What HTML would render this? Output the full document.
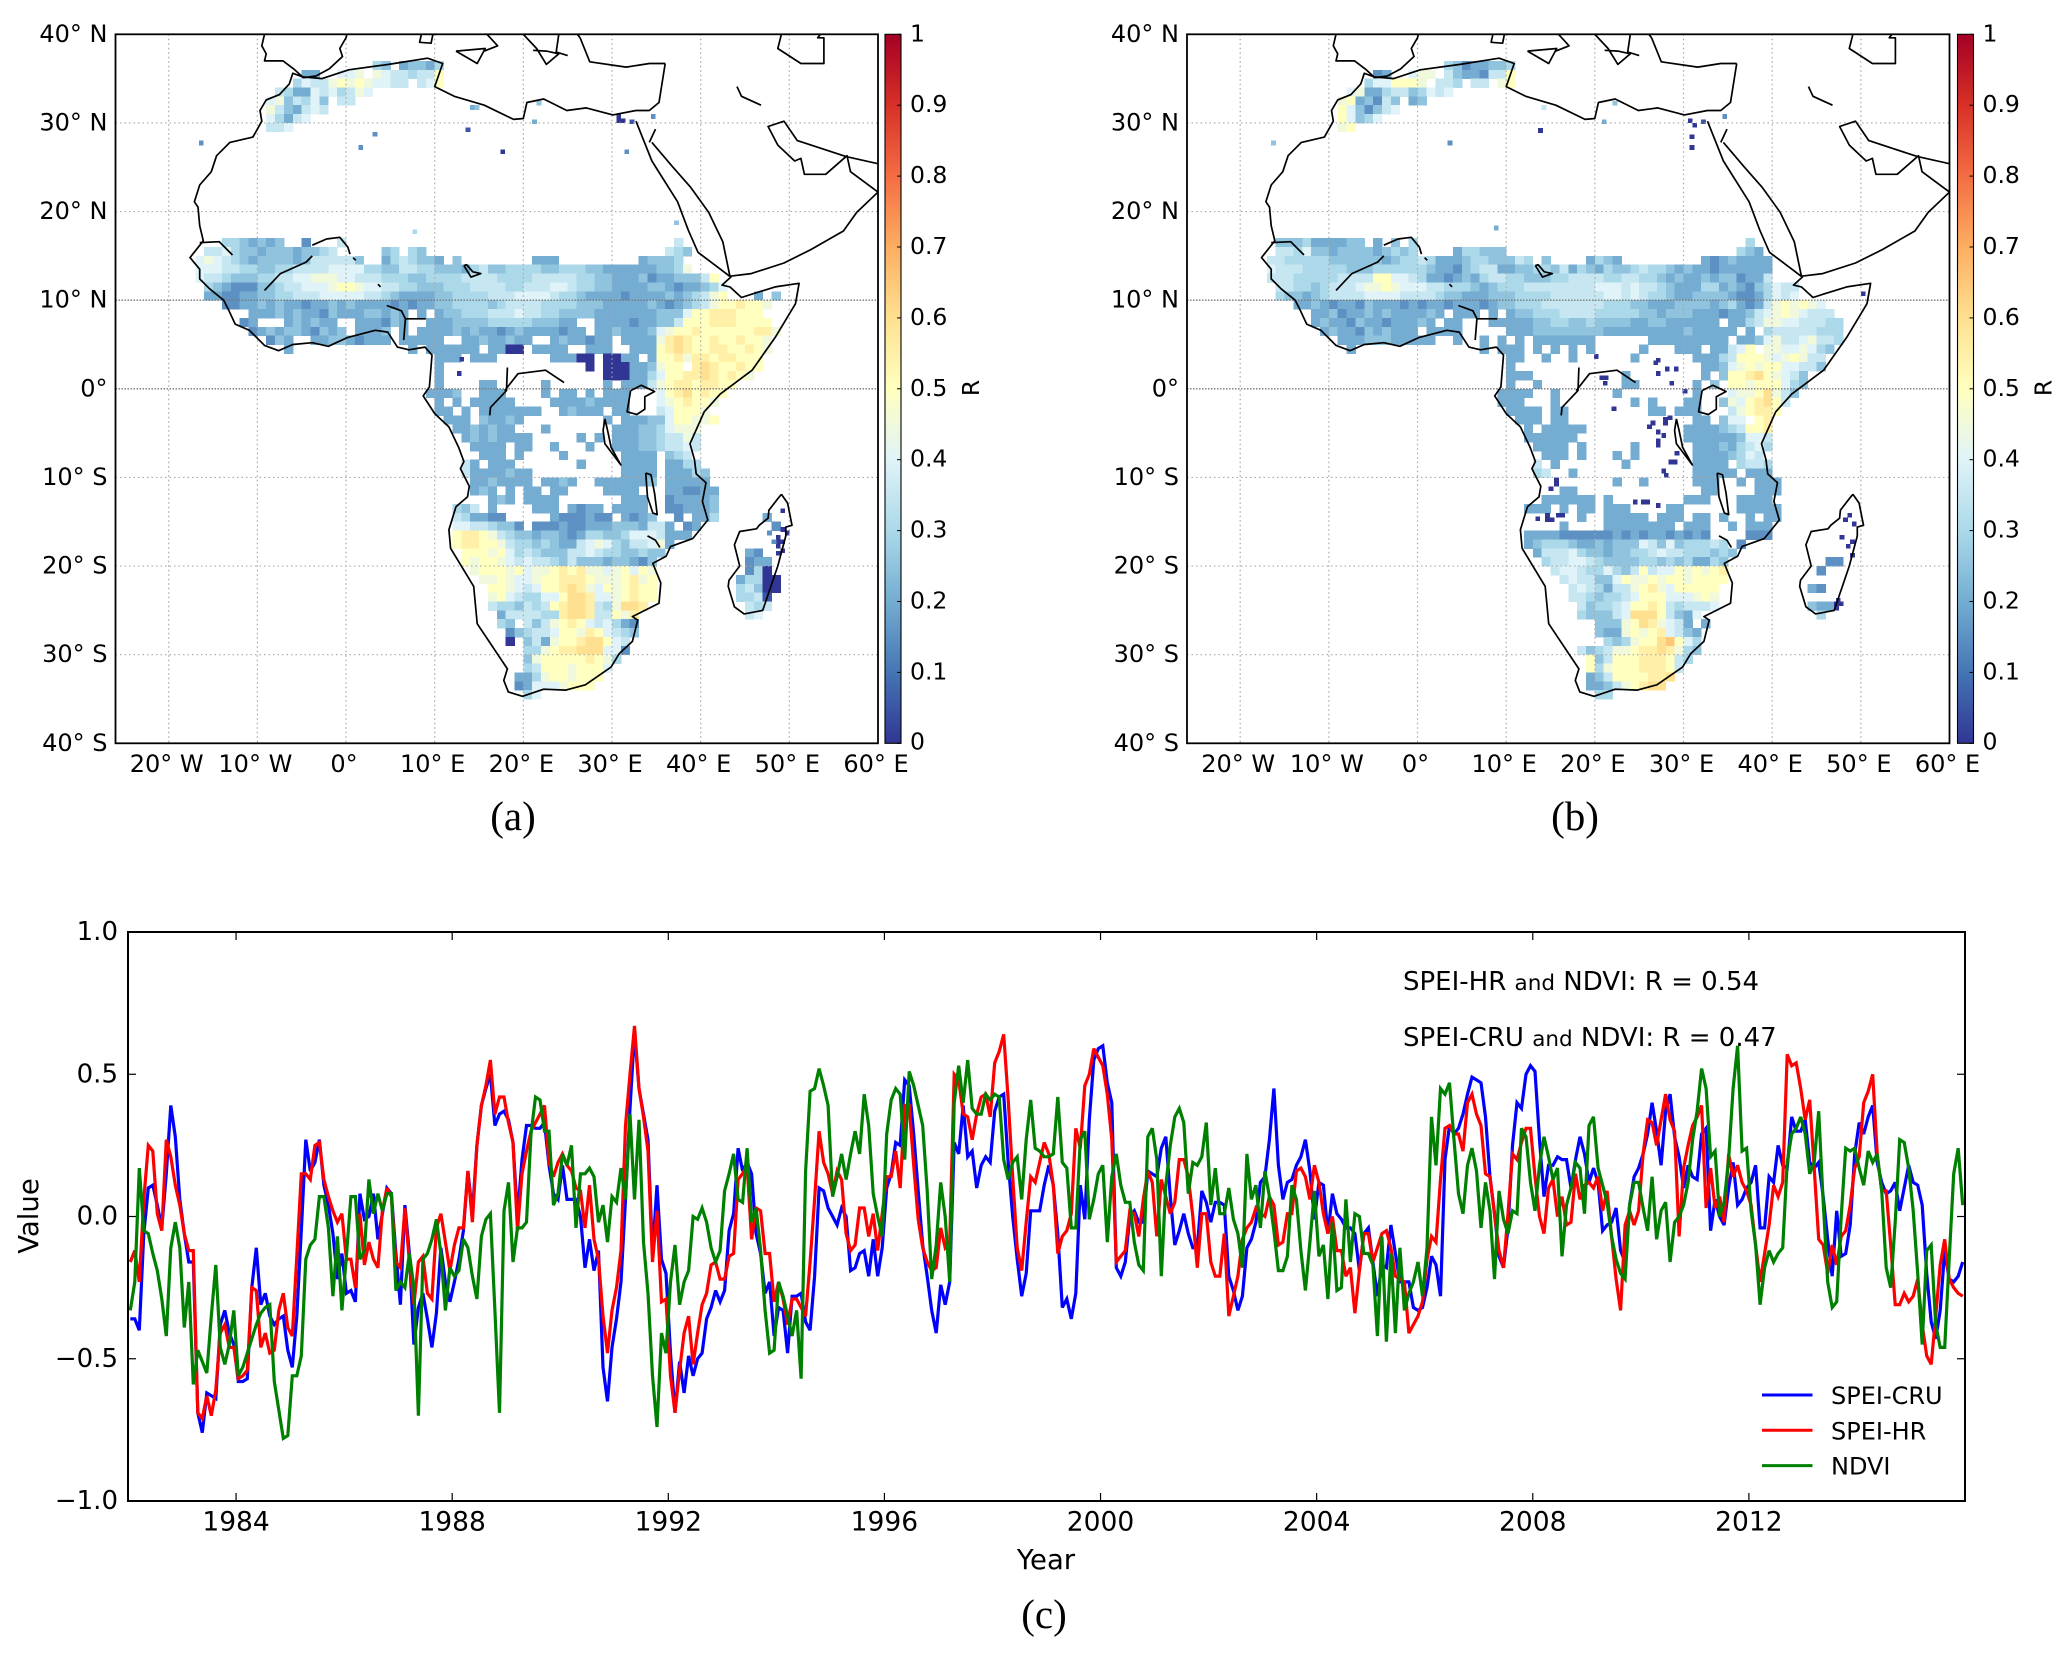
<!DOCTYPE html>
<html lang="en">
<head>
<meta charset="utf-8">
<title>SPEI and NDVI correlation over Africa</title>
<style>
html,body{margin:0;padding:0;background:#fff;width:2067px;height:1660px;overflow:hidden}
svg{display:block}
text{font-family:"DejaVu Sans",sans-serif;fill:#000}
.cap{font-family:"Liberation Serif",serif;font-size:41px}
</style>
</head>
<body>
<svg id="fig" xmlns="http://www.w3.org/2000/svg" width="2067" height="1660" viewBox="0 0 2067 1660">
<rect width="2067" height="1660" fill="#fff"/>
<text class="cap" x="513" y="830" text-anchor="middle">(a)</text>
<text class="cap" x="1575" y="830" text-anchor="middle">(b)</text>
<text class="cap" x="1044" y="1628" text-anchor="middle">(c)</text>
</svg>
<script>
const lonTicks=[-20,-10,0,10,20,30,40,50,60];
const latTicks=[40,30,20,10,0,-10,-20,-30,-40];
const cbTicks=[0,0.1,0.2,0.3,0.4,0.5,0.6,0.7,0.8,0.9,1];
const cbLabels=["0","0.1","0.2","0.3","0.4","0.5","0.6","0.7","0.8","0.9","1"];
const cmapValues=[0,0.1,0.2,0.3,0.4,0.5,0.6,0.7,0.8,0.9,1];
const cmapColors=["#313695","#4575b4","#74add1","#abd9e9","#e0f3f8","#ffffbf","#fee090","#fdae61","#f46d43","#d73027","#a50026"];

/* gridded R: "lat|lon:levels ..." levels are hex digits, R = level x 0.05, '.' = no data */
const rowsA=[
"37|3:65 6:45 8:54 10:6","36|-5:44 -1:889 3:9877 7:6777 10:a","35|-6:68 -4:77 -2:9a9a 2:988 5:77 8:78 10:a",
"34|-8:76 -6:4 -5:48 -3:78 -1:67 1:98","33|-9:89 -7:57 -5:68 -3:5 -1:77","32|-9:97 -7:54 -5:78 -3:7","31|-9:86 -7:47 -5:8","30|-9:77 -7:8",
"17|-14:66 -12:5 -11:4545 -8:5 -5:3 -1:7 37:7",
"16|-16:77 -14:8 -13:6 -12:55455 -7:545 -4:56 -2:7 4:56 7:65 36:7 37:6 38:5",
"15|-17:8987654555 -7:545777775 4:4676554 12:5 21:444 33:45556",
"14|-17:8887766556 -7:6777788886 3:6557766555 13:4675566665 23:5666554444 33:445569",
"13|-17:8776555667 -7:7889998877 3:7666556666 13:7777666677 23:7776655444 33:5344555 40:7a",
"12|-16:6543335567 -6:78889aa988 4:7766555666 14:7777667778 24:8766554444 34:554344568",
"11|-16:4433445566 -6:7778888877 4:6544445566 14:6677788887 24:6654444344 34:4454567 41:9a 46:4 48:5",
"10|-14:3344545 -7:4434454544 3:4434344556 13:6665677776 23:6665554444 33:4543456 40:79aabaa9",
"9|-11:4 -10:4454544354 0:445545 6:4.4. 10:4556667778 20:7766555544 30:4444455 37:5 38:8aabbbaa 46:a",
"8|-12:34 -7:454544 1:44 3:4354 8:.4 10:4 11:4555566 18:66 20:655544 28:4 29:44 31:434 34:455 37:7 38:aaabbbaaa 47:a",
"7|-11:3454554354 -1:5.4445.4 8:44 10:4454544345 20:4444344.4 29:454 32:44 34:58 36:9aabaa 42:aaaabb 48:9",
"6|-9:354 -4:4455434 3:44 6:4 7:444 10:4 13:4 14:454454 20:4 23:4544344 31:44 33:4 34:4 35:9 36:bcbaabaaba 46:a9",
"5|-7:4 7:4.4 10:44 12:44 14:4.44 18:00 21:4444 27:4 28:44 32:4 33:44 35:abcbaabbaa 45:ba9",
"4|10:444 14:444 23:444 26:00 29:000 31:44 34:4 35:aab9bbabba 45:aa",
"3|10:4 27:0 29:000 32:44 34:5 35:9aa.bcbaaba 46:a",
"2|10:4 29:000 32:44 34:6 35:8aabbcbab 44:a9",
"1|10:4 15:44 22:4 29:4 31:4 32:44 34:7 35:9 36:abbabba 43:a",
"0|9:4445 15:444 22:4 24:44 27:4 29:4 30:44 35:8abcaba 42:a",
"-1|10:4.4.4 15:4444 23:4444544 30:44 35:8 36:9abaab 41:9",
"-2|10:44.4 13:4 15:44 17:44444 24:4544 28:4 30:44 35:7 36:8aaa9",
"-3|11:444 15:54454 29:4 31:44 33:4 34:55 36:8aa99a",
"-4|12:4 13:45454 18:4 22:4 30:4 31:444 33:556 36:8997 39:9",
"-5|13:4545444 20:4 26:4 28:4 30:444 33:55677 38:97",
"-6|14:4444.44 23:4 27:4 30:44 32:4556 36:778 39:7",
"-7|15:444 17:4.4 24:4 31:444 34:4.56 38:7",
"-8|13:7 14:4 16:444 18:4 26:4 31:4444.444 38:6 39:6",
"-9|13:7 14:4444544 19:4 31:4444 36:4444 39:65",
"-10|14:4454 18:44 20:4 22:4454 28:4 29:444445 36:44 38:44 40:4",
"-11|14:454 16:4.4 20:4 21:4 23:44 24:4 29:4444 36:444 38:3344",
"-12|16:454 20:4 21:444 31:4 32:44 36:3444 39:445",
"-13|12:66 13:57 16:4 21:4 22:44 25:4344 30:4 31:444 33:4 36:3343 39:445",
"-14|12:76 14:44 16:33 23:4 24:33 26:3433 31:4345 37:3 39:44 41:6",
"-15|12:8877 16:655 19:3 21:33 23:343 26:3444 30:5554 34:77 36:4 38:34",
"-16|12:abba 16:9765 20:54 22:5543 26:4665 30:5688 34:87 36:44 38:4",
"-17|12:abba 16:a976 20:65 22:6544 26:7898 30:6 31:5778 35:94",
"-18|13:ab 14:aa9a 18:86 20:765 23:55 25:7 26:787 29:6 30:6556 34:5 35:5",
"-19|13:a9 15:aac 17:9 18:87 20:877 23:65 25:75 27:5545 31:5435",
"-20|14:9a 16:aa9a 20:899 23:ab 25:ab99 29:8 30:9a8 33:a9",
"-21|15:99 17:a9 19:88 21:9a 23:ab 25:bba9 29:99 31:ab 33:9a",
"-22|16:aa 18:98 20:78 22:aab 25:cb 27:98 29:a9 31:abaa",
"-23|16:9a 18:87 20:66 22:88 24:ac 26:cb 28:88 30:9a 32:baa",
"-24|16:7 17:66 19:5 20:76 22:7a 24:bc 26:cb 28:76 30:9c 32:cb",
"-25|17:4 18:77 20:77 22:66 24:bc 26:cb 28:77 30:a9 32:b",
"-26|17:65 20:75 22:7 23:9a 25:ba 27:87 29:86 31:43",
"-27|18:35 20:67 22:78 24:aa 26:9b 28:a8 30:76 32:5",
"-28|18:0 20:57 22:4 23:9 24:aab 27:cc 29:a8 31:7",
"-29|20:66 22:9 23:a 24:bbc 27:cc 29:88 31:3",
"-30|20:5 21:9 22:a 23:aa 25:aa 27:b 28:a9 30:6",
"-31|20:6 21:7 22:aa 24:a9 26:a 27:a 28:a8",
"-32|19:44 21:6 22:9a 24:a9 26:aa 28:a",
"-33|19:34 21:8 22:88 24:9 25:aa 27:a",
"-34|20:6 21:8",
"-14|47:4","-15|48:3","-18|45:43","-19|45:3 46:44","-20|45:3 46:64 47:0","-21|44:4 45:66 47:00","-22|44:6 45:75 47:00","-23|44:6 45:67 47:1","-24|45:76 47:7","-25|45:78"
];
const specksA=[[14,32,4],[14.5,32,5],[13.5,29.5,1],[21.5,32.5,5],[21,30.4,4],[30.5,31,0],[31,30.5,0],[30.5,30.5,0],[32,30.4,1],[34.4,31,3],[31.4,27,3],[17.4,27,0],[3,29,3],[1.4,27.5,3],[-16.6,28,3],[7.5,18,6],[37,19,5],[49,-13.5,0],[49,-15.6,0],[49.5,-16,0],[48.5,-16.5,0],[48.5,-17,0],[48.5,-17.5,0],[49,-17,0],[49,-18,0],[48.5,-18.3,0],[12.8,3.6,0],[12.5,2,0],[48,-17,3],[47.5,-16,3]];

const rowsB=[
"37|3:65 5:3 6:44 8:55 10:6","36|-5:34 -1:899 3:7 4:5443 8:7 9:77 10:a","35|-6:68 -4:8a -2:aa9 2:776 6:77 9:9a",
"34|-8:89 -6:4 -5:4 -4:67 -2:7 -1:56 1:87 3:8","33|-9:9a -7:45 -5:37 -3:5 -1:45","32|-9:a8 -7:53 -5:57 -3:8","31|-9:a8 -7:56 -5:8","30|-9:9 -8:a",
"17|-16:5556 -12:4 -11:4445 -7:5 -5:4 -3:5 -1:6 37:6",
"16|-16:7768 -12:5 -11:54555 -6:5 -5:4 -4:56 -2:5 -1:6 4:46 6:65 8:55 36:6 37:5 38:4",
"15|-17:7766666555 -7:5554566764 3:4456655576 14:5 19:4654 32:4345 36:4444",
"14|-17:8777666665 -7:5566666654 3:4356774455 13:6657465465 23:56766545 31:4 32:4344 36:4444",
"13|-17:7776666677 -7:77aa887644 3:3454677665 13:5566777766 23:7766545445 33:455 36:3445 39:7",
"12|-16:7766567778 -6:99a9888776 4:6654566677 14:7777778887 24:8776544466 34:4543568 41:77",
"11|-16:6554567777 -6:8888777765 4:5444555666 14:6777777887 24:8766544555 34:543346 40:878",
"10|-14:4454344354 -4:4434344344 6:4345566677 16:7777766655 26:4445555456 36:434 39:79a9 43:a98",
"9|-12:4 -11:4534454544 -1:4454.44 6:4.4 8:4 10:4556667777 20:6666655455 30:5444344 37:5789a 42:987 45:77",
"8|-12:4544354434 -2:4454.44. 8:4 9:4 10:4445566556 20:5555445544 30:44 32:44 35:4 36:4 37:679 40:988 43:7776 47:6",
"7|-11:4544354544 -1:4.4444 10:4445555 17:555 20:5 21:4 22:4444 26:44 28:44 30:544 33:444 37:4 39:6 40:7 41:7 42:777 45:66 47:6",
"6|-9:44 -7:45554444 1:4 4:4 7:4.4 11:4 13:4 13:444 16:4 17:44 19:4 26:44 27:444 30:44 32:4 33:44 36:4 37:4 38:58 40:9 41:7 42:789 45:776",
"5|-8:4 7:4 9:4 10:4 11:4 13:4 15:4 17:4 19:4 25:4 29:44 31:4 33:44 35:78 37:a 39:998 42:898 45:65",
"4|10:44 14:4 17:4 24:4 31:4 32:44 34:6 35:7 36:a 37:aa 39:98 41:9a 43:97 45:7",
"3|10:4 32:44 34:5 35:89 37:a9 39:aa 41:88 43:77 45:5",
"2|10:44 12:4 23:4 32:4 34:5 35:a 36:ab 38:ca 40:98 42:75",
"1|10:4 13:4 23:4 24:4 31:4 33:5 35:a 36:a9a 39:aa 41:86 43:5",
"0|9:444 12:4 15:4 22:4 31:4 35:89 37:9 38:ac 40:97 42:5",
"-1|9:444 11:4 15:4 24:4 26:4 30:4 31:4 34:5 35:9 36:8a 38:bc 40:a7",
"-2|10:4444 15:4 16:4 26:44 29:4 30:44 35:7 36:9 37:ab 39:ba",
"-3|11:444 15:44 31:4 31:44 34:5 35:8 36:8 38:a 39:b",
"-4|12:4 14:4 15:4444 30:4 31:444 33:45 35:67 37:a 38:ab",
"-5|12:44 14:4444 17:4 30:4 31:44 33:44 35:45 37:88 39:7",
"-6|13:4444 18:4 24:4 31:444 33:45 35:4678 39:6",
"-7|14:444 18:4 22:4 24:4 31:44 33:4 34:45 36:68 38:7",
"-8|13:7 15:4 23:4 31:44 33:4 34:4 36:67 38:76",
"-9|13:6 14:7 17:4 31:44 33:44 35:4 37:4 38:44",
"-10|22:4 25:4 31:444 33:4 36:4 38:4 38:444",
"-11|16:44 32:44 38:44 39:44",
"-12|14:4 15:44 17:44 19:4 21:4 30:44 32:4 36:44 38:44",
"-13|12:44 14:4 16:4 18:44 21:44 23:4 28:44 36:444 39:44",
"-14|18:4 21:4 22:4444 27:44 29:4 31:44 34:4 37:4 39:44",
"-15|16:4 21:44 22:444 25:44 27:44 30:4 31:44 35:4 37:44 39:4",
"-16|12:4 13:4 14:4433 18:33 20:3 21:34 23:34 25:3443 29:4343 37:3 37:3 38:33",
"-17|12:4566654 19:4545 23:5587 27:5856 31:6676 36:3",
"-18|13:47 15:778 18:65 20:5455 24:6 25:6 26:7877 30:6665 34:6 35:5",
"-19|14:67 16:7887 20:65 22:5 23:5566 27:5656 31:4465",
"-20|15:7 16:88 18:7 19:66 21:86 23:57a 26:788 29:a9a 32:9ab",
"-21|16:7 17:8 18:77 20:55 22:8a 24:99 26:a9 28:aa 30:9a 32:aaa",
"-22|17:78 19:76 21:4 22:77 24:9 25:ab 27:98 29:aa 31:aa 33:a",
"-23|17:7 18:76 20:5 21:66 23:78 25:aa 27:a8 29:88 31:9a 33:9",
"-24|18:75 20:66 22:7 23:8a 25:ab 27:a7 29:6 30:7 31:7 32:78",
"-25|18:65 20:55 22:78 24:cc 26:ca 28:75 30:4 31:8",
"-26|20:5 21:55 23:9 24:ac 26:b9 28:87 30:4 32:4",
"-27|20:54 22:4 23:9 24:a9 26:ab 28:87 30:5 31:4",
"-28|21:6 22:5 23:69 25:aa 27:cd 29:a8 31:6",
"-29|18:77 19:5 20:6 21:79 23:9a 25:b 26:bc 28:b9 30:65",
"-30|19:a5 21:7a 23:aa 25:bb 27:ba 29:76",
"-31|19:a6 21:9 22:aa 24:ab 26:bb 28:a7",
"-32|19:45 21:7a 23:aa 25:ab 27:bc",
"-33|19:44 21:57 23:9a 25:bc 27:c",
"-34|20:6 21:6",
"-19|46:33","-20|45:3","-22|44:4 45:3","-24|44:54 46:4","-25|45:6"
];
const specksB=[[14,32,7],[13.6,29.4,0],[22,32.5,5],[20.8,30.4,4],[30.5,30.5,0],[31,30,0],[30.7,28.7,0],[30.7,27.5,0],[32,30.4,1],[34.4,31,3],[3.4,28,3],[-16.5,28,5],[8.6,18.4,4],[48.5,-14,0],[48,-14.5,0],[49,-15,0],[47.6,-16.5,0],[48.8,-17,0],[48.3,-17.5,0],[48.8,-18.5,0],[50,11,0],
[19.9,3.9,0],[26.6,3.2,0],[26.9,3.5,0],[27.9,2.5,0],[28.9,2.5,0],[26.9,2,0],[28.4,.9,0],[20.5,1.5,0],[21,1.5,0],[20.9,.9,0],[29.9,0,0],[21.9,-2,0],[27.7,-3.2,0],[28.2,-3,0],[27.7,-3.6,0],[26.3,-3.6,0],[25.9,-4,0],[26.9,-4.6,0],[27.5,-5,0],[26.9,-5.6,0],[26.9,-6.1,0],[29,-7,0],[28.3,-8,0],[28.8,-8,0],[27.5,-9,0],[27.8,-9.5,0],[15.4,-10,0],[15.4,-10.5,0],[14.8,-11,0],[24.3,-12.5,0],[25.2,-12.5,0],[25.7,-12.5,0],[26.9,-12.9,0],[13.3,-14.4,0],[14.4,-14,0],[14.4,-14.5,0],[14.9,-14.5,0],[15.6,-14,0],[16.1,-14,0],[47.2,-23.6,0],[47,-24,0],[47.5,-24,0],[47,-24.5,0]];

/* coastlines and inland water as lon,lat pairs */
const coastLines=[
[36,36.7,35.3,32.3,34.2,31.4,32.7,31.4,30.1,30.9,27.1,31.7,24.9,31.4,22.3,32.7,20.4,32.3,20,30.5,18.9,30.4,15.6,32,12.2,33,10,34.1,10.9,36.7,9.2,37.3,4.8,36.6,.3,36,-2.7,35,-4.9,35.2,-6,35.6,-6.4,34.4,-7.5,33.2,-9,32.6,-9.7,31.4,-9.5,30.2,-10.5,28.4,-13.1,27.8,-14.6,26.3,-15.2,24.5,-16.5,23,-17.1,21.1,-16.7,20.5,-16.5,18.4,-16.1,16.7,-17.6,14.8,-16.5,13.5,-16.5,12.4,-15.4,11.3,-13.8,10,-13.2,8.8,-12.5,7.3,-10.9,6.6,-9.2,4.9,-7.6,4.3,-6,5,-3.8,5.2,-2,4.8,.2,5.8,3.3,6.6,4.7,6.4,5.8,4.7,7.1,4.4,8.9,4.7,9.7,3.8,9.4,.2,8.7,-.8,10,-2.8,11.6,-4.3,12.7,-6.6,13.3,-8.2,12.9,-9,13.9,-11,13.7,-12.2,12.4,-13.3,11.6,-15.9,11.8,-18,14.4,-22.3,14.8,-26.5,18.2,-31.6,17.8,-32.9,18.3,-34.2,19.9,-34.7,22.3,-33.9,24.8,-34,27,-33.4,29.9,-31.4,30.8,-29.9,32.3,-28.5,32.9,-26.1,32.3,-25.7,35.3,-24.2,35.5,-21.9,34.6,-19.7,36.1,-18.9,36.6,-17.8,39.1,-16.9,40.8,-14.8,40.2,-12.7,40.6,-10.6,39.5,-9.6,39.3,-8,38.8,-6.2,40.4,-2.6,42.2,-.6,45.8,2.1,48.4,5.8,50.7,9.6,51.1,11.9,48.4,11.5,45.8,10.7,44.6,10.3,43.3,11.5,42.4,11.7,43.4,12.6,39.7,15.4,38.6,17.9,37.4,21.1,34.5,25.7,32.7,30.2],
[34.2,27.8,34.9,29.3],
[34.5,27.8,36.8,25.1,38.9,22.7,40.9,19.9,42.5,16.6,43.3,12.7,45.7,13,49.4,14.2,52.4,15.7,56.1,17.8,57.6,19.9,60,22.2],
[60,22.2,56.9,24.5,56.5,26.3,54.1,24.2,51.7,24.2,51.3,26,50.6,25.7,48.7,27.5,47.6,29.6,49.4,30.2,50.9,28,56.4,26.2,60,25.4],
[49.1,40,48.7,38.4,51.3,36.7,53.9,36.7,53.9,39.6,53.2,39.6,53.5,40],
[44.1,34.1,44.6,33,46.8,32],
[-9.2,40,-9.5,38.7,-9,37.8,-9.2,37,-7.1,37,-5.9,36.1,-4.8,35.1,-3.4,35.3,-1.9,36.1,-.4,37.5,-.7,38.4,0,39.6,.1,40],
[8.5,40,8.3,39.1,9.6,39,9.8,40],
[12.4,38.1,15.7,38.4,14.8,36.7,12.4,38.1],
[15.9,40,17.1,38.7,15.6,38.1],
[20,40,21.5,38.4,22.6,36.6,24,37.8,22.6,38.1,21.1,38.2],
[24,40,23.7,38,25,37.6],
[26.4,39.6,26.1,40],[26.4,39.6,27.5,36.9,31.6,36.3,34.2,36.7,36,36.7],
[-16.5,16.5,-14.3,16.6,-12.8,15.1],
[-3.8,16.2,-2.2,16.9,-.7,17.1,.2,16,.45,15.2],[.8,14.8,1.1,14.5],
[-9.2,11.1,-7.4,13,-4.5,14.3,-3.8,15],
[3.6,11.8,3.9,11.5],
[4.6,9.4,6.25,8.8,6.7,7.9,9,7.9],[6.7,7.9,6.5,5.5],
[13.3,13.9,14.1,12.6,15.2,13,14.3,13.2,13.6,14,13.3,13.9],
[16.2,-3,16.3,-2.1,18.1,-.2,18.2,2.4],[17.9,-.2,19.4,1.7,22.5,2.1,24.6,.7],
[32.1,-.2,31.7,-2.6,32.8,-2.9,33.7,-2.3,33.7,-.9,34.8,-.3,33.3,.4,32.1,-.2],
[29.2,-3.4,29,-4.7,29.2,-6.2,31,-8.6,29.9,-6.6,29.5,-4.7,29.2,-3.4],
[33.8,-9.5,34.4,-9.7,34.8,-11.8,35.1,-14.2,34.6,-14,34,-12.2,33.8,-9.5],
[34,-16.6,34.9,-17.1,35.4,-17.9],
[49.1,-11.9,48.7,-12.4,47.7,-13.7,47.6,-14.6,46.6,-15.4,46.3,-15.8,44.4,-16.1,43.8,-17.6,44.4,-20,43.2,-21.6,43.1,-22.3,43.8,-24.6,44.9,-25.4,47,-25,48.7,-20,49.6,-16.6,49.6,-15.6,50.3,-15.4,49.8,-12.9,49.1,-11.9]
];

/* monthly series 1982-2015, 408 values each */
const seriesCRU=[
-.36,-.36,-.40,-.06,.10,.11,.04,-.04,.15,.39,.28,.06,-.06,-.16,-.16,-.69,-.76,-.62,-.63,-.64,
-.38,-.33,-.41,-.45,-.58,-.58,-.57,-.25,-.11,-.31,-.27,-.35,-.38,-.36,-.35,-.47,-.53,-.35,-.05,.27,
.16,.19,.27,.11,.04,-.06,-.22,-.13,-.27,-.26,-.30,.08,-.01,0,.08,-.08,.01,.10,.08,-.13,
-.31,.04,-.13,-.45,-.32,-.27,-.36,-.46,-.34,-.11,-.23,-.30,-.23,-.15,-.05,.16,.01,.25,.39,.45,
.50,.32,.36,.37,.34,.26,0,.20,.32,.32,.31,.31,.33,.18,.08,.06,.18,.06,.06,.06,
0,-.18,-.08,-.19,-.12,-.53,-.65,-.46,-.36,-.23,.06,.38,.65,.45,.36,.27,-.13,.11,-.15,-.20,
-.48,-.69,-.51,-.62,-.49,-.56,-.50,-.48,-.36,-.32,-.26,-.30,-.26,-.05,.01,.24,.16,.19,.15,-.06,
-.13,-.27,-.23,-.42,-.32,-.33,-.48,-.28,-.28,-.27,-.37,-.40,-.21,.10,.09,.03,0,-.03,.03,0,
-.19,-.18,-.13,-.12,-.21,-.08,-.21,-.11,.10,.15,.26,.25,.48,.46,.29,.09,-.10,-.21,-.33,-.41,
-.24,-.31,-.23,.26,.22,.39,.21,.23,.10,.18,.21,.19,.37,.42,.43,.19,0,-.15,-.28,-.20,
.02,.02,.02,.11,.18,.11,-.06,-.32,-.29,-.36,-.27,.11,-.01,.34,.55,.59,.60,.47,.40,-.18,
-.21,-.16,0,.02,-.02,-.02,.16,.15,.14,.24,.28,.07,-.10,-.05,.01,-.06,-.11,-.11,.09,.05,
-.02,.05,.05,.04,-.21,-.26,-.33,-.28,-.11,-.08,-.02,.12,.14,.27,.45,.18,.06,.12,.13,.18,
.21,.27,.16,-.01,.12,.11,-.06,.08,.01,-.01,-.04,-.04,-.06,-.19,-.06,-.04,-.16,-.28,-.17,-.18,
-.03,-.13,-.23,-.23,-.23,-.32,-.33,-.32,-.25,-.14,-.17,-.28,.20,.32,.29,.31,.36,.43,.49,.48,
.47,.35,.14,.01,-.14,-.18,-.04,.25,.40,.38,.50,.53,.51,.27,.07,.18,.18,.21,.20,.20,
.10,.20,.28,.22,.12,.17,.12,-.05,-.03,-.02,.03,-.12,-.16,.04,.14,.17,.22,.29,.40,.30,
.18,.37,.43,.28,.21,.10,.18,.14,.13,.29,.31,-.05,.06,0,-.03,.10,.19,.04,.06,.10,
.12,.18,-.04,-.04,.14,.12,.25,.18,.17,.35,.30,.30,.34,.19,.17,.19,.07,-.08,-.21,.02,
-.14,-.13,-.03,.22,.33,.29,.35,.39,.19,.12,.08,.09,.12,.02,.10,.18,.12,.11,.04,-.20,
-.37,-.43,-.33,-.12,-.22,-.23,-.21,-.16];
const seriesHR=[
-.16,-.12,-.23,.06,.25,.23,.01,-.05,.27,.21,.11,.04,-.06,-.12,-.12,-.69,-.71,-.63,-.70,-.61,
-.41,-.38,-.46,-.46,-.57,-.56,-.54,-.25,-.26,-.46,-.41,-.48,-.47,-.33,-.27,-.39,-.42,-.14,.15,.15,
.13,.25,.26,.13,.07,.02,-.02,.01,-.15,-.15,-.25,.01,-.17,-.09,-.15,-.18,.02,.10,.07,-.16,
-.18,.03,-.16,-.31,-.16,-.14,-.27,-.29,-.04,.01,-.09,-.19,-.10,-.04,-.04,.16,-.02,.25,.39,.46,
.55,.36,.42,.42,.33,.26,-.05,.15,.23,.30,.33,.36,.39,.19,.14,.19,.22,.18,.16,.10,
.09,-.04,.11,-.08,-.15,-.35,-.48,-.33,-.25,-.12,.32,.50,.67,.45,.35,.23,-.16,.02,-.30,-.29,
-.56,-.69,-.54,-.41,-.35,-.52,-.41,-.31,-.27,-.17,-.16,-.22,-.22,-.14,-.13,.13,.15,.18,-.08,.03,
.02,-.13,-.13,-.30,-.23,-.29,-.38,-.29,-.29,-.32,-.35,-.16,.06,.30,.19,.15,.08,.16,.13,-.06,
-.12,-.10,.03,.03,-.07,.01,-.12,.01,.14,.14,.23,.10,.39,.39,.18,-.01,-.11,-.16,-.19,-.18,
-.04,-.11,-.09,.50,.48,.36,.35,.27,.36,.42,.43,.35,.54,.58,.64,.41,.14,-.11,-.19,-.02,
.14,.12,.19,.26,.22,.11,-.13,-.07,-.05,.01,.31,.24,.46,.50,.59,.56,.53,.43,.27,-.16,
-.14,-.12,.02,.01,-.07,.06,.16,.12,-.07,.13,.07,.01,.05,.20,.20,.14,0,-.18,.01,.01,
-.16,-.21,-.21,-.06,-.35,-.28,-.21,-.08,-.04,-.02,.03,.01,0,.07,.04,-.10,-.09,.01,.01,.16,
.17,.14,.06,.18,.12,.01,-.06,0,-.12,-.12,-.21,-.18,-.34,-.19,-.06,-.06,-.16,-.11,-.06,-.05,
-.11,-.21,-.22,-.23,-.41,-.38,-.35,-.30,-.15,-.07,-.09,.13,.31,.32,.29,.29,.23,.40,.43,.36,
.32,.15,.14,.01,-.12,-.18,.01,.22,.20,.26,.31,.31,.14,0,-.06,.10,.13,0,.07,-.03,
-.02,.15,.06,.11,.12,.10,.14,.02,.09,-.07,-.22,-.33,-.03,.02,-.03,.02,.22,.34,.33,.25,
.34,.43,.34,.30,-.07,.17,.25,.32,.35,.39,.03,.17,.03,.07,-.02,.22,.14,.18,.12,.09,
.04,-.10,-.23,-.13,-.03,.11,.07,.12,.57,.53,.54,.45,.34,.41,.17,-.08,-.10,-.20,-.10,-.17,
-.07,-.05,.04,.17,.21,.40,.44,.50,.22,.09,.09,-.10,-.31,-.31,-.27,-.30,-.28,-.22,-.38,-.49,
-.52,-.35,-.17,-.08,-.22,-.25,-.27,-.28];
const seriesNDVI=[
-.33,-.23,.17,-.05,-.06,-.13,-.19,-.29,-.42,-.11,-.02,-.11,-.39,-.23,-.59,-.47,-.51,-.55,-.35,-.17,
-.46,-.52,-.45,-.33,-.56,-.53,-.48,-.43,-.38,-.34,-.32,-.31,-.58,-.68,-.78,-.77,-.56,-.56,-.49,-.15,
-.10,-.08,.07,.07,-.04,-.28,-.07,-.33,-.14,.07,.07,-.15,-.12,.13,.01,.08,.02,.08,.08,-.26,
-.23,-.25,-.13,-.25,-.70,-.15,-.13,-.08,-.01,-.13,-.33,-.18,-.21,-.19,-.08,-.11,-.21,-.29,-.07,-.01,
.01,-.33,-.69,.02,.12,-.16,-.04,-.04,-.02,.29,.42,.41,.30,.30,.04,.08,.22,.18,.25,-.04,
.15,.15,.17,.14,-.02,.04,-.09,.07,.05,.17,.06,.36,.06,.34,-.09,-.27,-.56,-.74,-.41,-.48,
-.23,-.10,-.31,-.23,-.19,0,-.01,.03,-.02,-.11,-.16,-.12,.09,.15,.22,.06,.05,.24,-.02,.03,
-.12,-.33,-.48,-.47,-.23,-.28,-.35,-.42,-.33,-.57,.16,.44,.45,.52,.46,.39,.07,.14,.22,.13,
.22,.30,.22,.43,.32,.08,0,-.07,.29,.41,.45,.43,.20,.51,.46,.39,.32,.09,-.22,-.10,
.12,0,-.23,.40,.53,.40,.55,.38,.36,.36,.43,.41,.43,.42,.20,.13,.19,.21,.06,.27,
.41,.24,.23,.21,.21,.22,.42,.19,.17,-.04,-.04,.27,.30,-.01,.06,.15,.18,-.09,.14,.22,
.11,.05,.05,-.09,-.17,-.19,.28,.31,.20,-.21,.11,.25,.35,.38,.33,.08,.19,.18,.21,.33,
.04,.17,.01,.01,.10,-.01,-.06,-.18,.22,.06,.11,-.04,.16,.07,-.05,-.19,-.19,-.14,.11,.06,
-.12,-.26,-.09,.09,-.14,-.10,-.29,-.02,-.26,-.25,.06,-.16,.01,0,-.13,-.13,-.17,-.42,-.07,-.44,
-.13,-.41,-.11,-.33,-.27,-.23,-.16,-.28,-.11,.35,.18,.45,.43,.47,.27,.08,.01,.18,.24,.16,
-.04,.12,.02,-.22,.09,-.01,-.06,.02,.01,.31,.28,.12,.02,.18,.28,.21,.13,.17,-.14,.04,
.10,.19,.17,.01,.32,.35,.17,.11,.05,-.07,-.15,-.20,-.22,.04,.12,.12,.03,-.05,.14,-.08,
.02,.05,-.16,-.02,0,.04,.12,.27,.37,.52,.45,.21,.23,0,.05,.20,.45,.60,.23,.24,
.02,-.10,-.31,-.18,-.12,-.16,-.13,-.11,.19,.29,.31,.35,.29,.15,.19,.37,.05,-.23,-.32,-.30,
0,.24,.23,.24,.17,.11,.23,.19,.22,.09,-.18,-.25,-.02,.27,.26,.17,.02,-.20,-.45,-.12,
-.10,-.38,-.46,-.46,-.15,.15,.24,.04];
const seriesNames=["SPEI-CRU","SPEI-HR","NDVI"];
const seriesColors=["#0000ff","#ff0000","#008000"];
const yearTicks=[1984,1988,1992,1996,2000,2004,2008,2012];
const valueTicks=[-1,-0.5,0,0.5,1];
const valueLabels=["\u22121.0","\u22120.5","0.0","0.5","1.0"];
const notes=[["SPEI-HR ","and"," NDVI: R = 0.54"],["SPEI-CRU ","and"," NDVI: R = 0.47"]];

const NS="http://www.w3.org/2000/svg";
const fig=document.getElementById('fig');
function mk(tag,attrs,parent){
  const el=document.createElementNS(NS,tag);
  for(const k in attrs) el.setAttribute(k,attrs[k]);
  (parent||fig).appendChild(el);
  return el;
}
function hexToRgb(h){return [1,3,5].map(i=>parseInt(h.substr(i,2),16));}
function colorFor(v){
  let i=Math.min(Math.floor(v*10),9);
  const t=(v-cmapValues[i])/(cmapValues[i+1]-cmapValues[i]);
  const a=hexToRgb(cmapColors[i]),b=hexToRgb(cmapColors[i+1]);
  return 'rgb('+a.map((c,j)=>Math.round(c+(b[j]-c)*t)).join(',')+')';
}

const MAP={top:34.3,bottom:743.3,width:762.5,lonMin:-26,lonMax:60,latMin:-40,latMax:40};
function lonX(lon,x0){return x0+(lon-MAP.lonMin)/(MAP.lonMax-MAP.lonMin)*MAP.width;}
function latY(lat){return MAP.top+(MAP.latMax-lat)/(MAP.latMax-MAP.latMin)*(MAP.bottom-MAP.top);}
function lonLabel(v){return v===0?'0\u00b0':Math.abs(v)+'\u00b0 '+(v<0?'W':'E');}
function latLabel(v){return v===0?'0\u00b0':Math.abs(v)+'\u00b0 '+(v<0?'S':'N');}

function drawMap(id,x0,rows,specks,cbX){
  const clipId='clip-'+id;
  const cp=mk('clipPath',{id:clipId});
  mk('rect',{x:x0,y:MAP.top,width:MAP.width,height:MAP.bottom-MAP.top},cp);
  const panel=mk('g',{});
  
  
  const cells=mk('g',{'clip-path':'url(#'+clipId+')','shape-rendering':'crispEdges'},panel);
  
  
  const cw=lonX(1,x0)-lonX(0,x0), ch=latY(0)-latY(1);
  rows.forEach(function(r){
    const parts=r.split('|');
    const lat=+parts[0];
    parts[1].split(' ').forEach(function(seg){
      const s=seg.split(':');
      const start=+s[0];
      for(let i=0;i<s[1].length;i++){
        if(s[1][i]==='.') continue;
        const rect=mk('rect',{x:lonX(start+i,x0).toFixed(1),y:latY(lat).toFixed(1),width:(cw+.4).toFixed(1),height:(ch+.4).toFixed(1),fill:colorFor(parseInt(s[1][i],16)*0.05)},cells);
        
        
      }
    });
  });
  specks.forEach(function(p){
    const rect=mk('rect',{x:lonX(p[0],x0).toFixed(1),y:latY(p[1]).toFixed(1),width:(cw/2+.3).toFixed(1),height:(ch/2+.3).toFixed(1),fill:colorFor(p[2]*0.05)},cells);
    
    
  });
  lonTicks.forEach(function(v){
    if(v===MAP.lonMax) return;
    const l=mk('line',{x1:lonX(v,x0),x2:lonX(v,x0),y1:MAP.top,y2:MAP.bottom,stroke:'#a8a8a8','stroke-width':1.2,'stroke-dasharray':'1.5 3'},panel);
    
    
  });
  latTicks.forEach(function(v){
    if(Math.abs(v)===40) return;
    const strong=(v===0||v===10);
    const l=mk('line',{x1:x0,x2:x0+MAP.width,y1:latY(v),y2:latY(v),stroke:strong?'#777':'#a8a8a8','stroke-width':strong?1.4:1.2,'stroke-dasharray':strong?'1.5 1.5':'1.5 3'},panel);
    
    
  });
  const coast=mk('g',{'clip-path':'url(#'+clipId+')',fill:'none',stroke:'#000','stroke-width':1.7,'stroke-linejoin':'round'},panel);
  
  
  coastLines.forEach(function(line){
    let pts='';
    for(let i=0;i<line.length;i+=2) pts+=lonX(line[i],x0).toFixed(1)+','+latY(line[i+1]).toFixed(1)+' ';
    const pl=mk('polyline',{points:pts},coast);
    
    
  });
  const frame=mk('rect',{x:x0,y:MAP.top,width:MAP.width,height:MAP.bottom-MAP.top,fill:'none',stroke:'#000','stroke-width':1.8},panel);
  
  
  lonTicks.forEach(function(v){
    const t=mk('text',{x:lonX(v,x0)-2,y:772,'text-anchor':'middle','font-size':24},panel);
    t.textContent=lonLabel(v);
    
    
  });
  latTicks.forEach(function(v){
    const t=mk('text',{x:x0-8,y:latY(v)+7.5,'text-anchor':'end','font-size':24},panel);
    t.textContent=latLabel(v);
    
    
  });
  /* colour bar */
  const gradId='grad-'+id;
  const grad=mk('linearGradient',{id:gradId,x1:0,y1:1,x2:0,y2:0});
  cmapValues.forEach(function(v,i){mk('stop',{offset:v,'stop-color':cmapColors[i]},grad);});
  const cbar=mk('g',{},panel);
  
  
  const cbW=16;
  const bar=mk('rect',{x:cbX,y:MAP.top,width:cbW,height:MAP.bottom-MAP.top,fill:'url(#'+gradId+')',stroke:'#000','stroke-width':1.1},cbar);
  
  
  cbTicks.forEach(function(v,i){
    const y=MAP.bottom-v*(MAP.bottom-MAP.top);
    const tk=mk('line',{x1:cbX+cbW-4,x2:cbX+cbW,y1:y,y2:y,stroke:'#000','stroke-width':1},cbar);
    
    
    const t=mk('text',{x:cbX+25,y:y+(i===0?6:7),'font-size':23.5},cbar);
    t.textContent=cbLabels[i];
    
    
  });
  const cx=cbX+94, cy=388;
  const rl=mk('text',{x:cx,y:cy,'text-anchor':'middle','font-size':23.5,transform:'rotate(-90 '+cx+' '+cy+')'},cbar);
  rl.textContent='R';
  
  
}
drawMap('a',115.5,rowsA,specksA,885);
drawMap('b',1187,rowsB,specksB,1957.5);

/* time series panel */
const TS={left:128,right:1965,top:932,bottom:1501,xMin:1982,xMax:2016,yMin:-1,yMax:1};
function yearX(t){return TS.left+(t-TS.xMin)/(TS.xMax-TS.xMin)*(TS.right-TS.left);}
function valueY(v){return TS.bottom-(v-TS.yMin)/(TS.yMax-TS.yMin)*(TS.bottom-TS.top);}
const tsGroup=mk('g',{});


const tsClip=mk('clipPath',{id:'clip-ts'});
mk('rect',{x:TS.left,y:TS.top,width:TS.right-TS.left,height:TS.bottom-TS.top},tsClip);
[seriesCRU,seriesHR,seriesNDVI].forEach(function(vals,k){
  const pts=vals.map(function(v,i){return yearX(TS.xMin+(i+.5)/12).toFixed(1)+','+valueY(v).toFixed(1);}).join(' ');
  const pl=mk('polyline',{points:pts,fill:'none',stroke:seriesColors[k],'stroke-width':3.2,'stroke-linejoin':'miter','stroke-miterlimit':3,'clip-path':'url(#clip-ts)'},tsGroup);
  
  
});
const tsFrame=mk('rect',{x:TS.left,y:TS.top,width:TS.right-TS.left,height:TS.bottom-TS.top,fill:'none',stroke:'#000','stroke-width':2},tsGroup);


yearTicks.forEach(function(v){
  const x=yearX(v);
  [[TS.top,TS.top+8],[TS.bottom,TS.bottom-8]].forEach(function(p){
    const l=mk('line',{x1:x,x2:x,y1:p[0],y2:p[1],stroke:'#000','stroke-width':1.2},tsGroup);
    
    
  });
  const t=mk('text',{x:x,y:1530.5,'text-anchor':'middle','font-size':26.5},tsGroup);
  t.textContent=String(v);
  
  
});
valueTicks.forEach(function(v,i){
  const y=valueY(v);
  [[TS.left,TS.left+8],[TS.right,TS.right-8]].forEach(function(p){
    const l=mk('line',{x1:p[0],x2:p[1],y1:y,y2:y,stroke:'#000','stroke-width':1.2},tsGroup);
    
    
  });
  const t=mk('text',{x:118,y:y+8,'text-anchor':'end','font-size':26},tsGroup);
  t.textContent=valueLabels[i];
  
  
});
const xTitle=mk('text',{x:1046,y:1569,'text-anchor':'middle','font-size':27.5},tsGroup);
xTitle.textContent='Year';


const yTitle=mk('text',{x:38,y:1216,'text-anchor':'middle','font-size':27.5,transform:'rotate(-90 38 1216)'},tsGroup);
yTitle.textContent='Value';


notes.forEach(function(n,i){
  const t=mk('text',{x:1403,y:990+i*56,'font-size':26},tsGroup);
  
  
  n.forEach(function(part,j){
    const s=mk('tspan',j===1?{'font-size':21.5}:{},t);
    s.textContent=part;
  });
});
const legend=mk('g',{},tsGroup);


seriesNames.forEach(function(name,i){
  const y=1395+i*35.3;
  const l=mk('line',{x1:1762,x2:1812.5,y1:y,y2:y,stroke:seriesColors[i],'stroke-width':3},legend);
  
  
  const t=mk('text',{x:1831,y:y+9,'font-size':24},legend);
  t.textContent=name;
  
  
});
</script>
</body>
</html>
